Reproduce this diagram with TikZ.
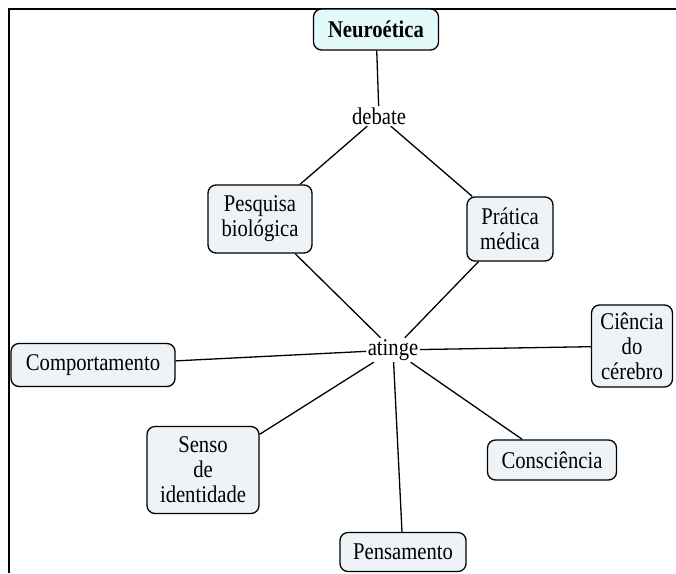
\documentclass[tikz,border=0pt]{standalone}
\usepackage{fontspec}
\setmainfont[FakeStretch=0.86]{Liberation Serif}
\usepackage{tikz}
\usetikzlibrary{
	positioning,									% 节点的高级摆放
}

\begin{document}
\begin{tikzpicture}[x=1pt, y=-1pt,
		conceito/.style={draw, line width=1.3pt, rounded corners=8pt, fill=caixa, align=center,
			inner xsep=10pt, inner ysep=7pt, font=\fontsize{24}{25}\selectfont},
		ligacao/.style={inner sep=1.5pt, font=\fontsize{24}{25}\selectfont},
		linha/.style={line width=1.3pt}]
		\definecolor{caixa}{HTML}{EDF3F6}
		\definecolor{raiz}{HTML}{E3F8F8}
		\useasboundingbox (0,0) rectangle (676,573);
		% moldura
		\draw[line width=2pt] (676,8.5) -- (9,8.5) -- (9,573);
		\node[conceito, fill=raiz, font=\fontsize{24}{25}\selectfont\bfseries, minimum width=125pt, minimum height=41pt] (neuro) at (376,29.5) {Neuroética};
		\node[ligacao] (debate) at (379,116) {debate};
		\node[conceito, minimum width=104pt, minimum height=68pt] (pesquisa) at (260,219) {Pesquisa\\biológica};
		\node[conceito, minimum width=86pt, minimum height=64pt] (pratica) at (510,229) {Prática\\médica};
		\node[ligacao] (atinge) at (393,350) {atinge};
		\node[conceito, minimum width=164pt, minimum height=43pt] (comport) at (93,365) {Comportamento};
		\node[conceito, inner xsep=3pt, minimum width=81pt, minimum height=82pt] (ciencia) at (632,346) {Ciência\\do\\cérebro};
		\node[conceito, minimum width=112pt, minimum height=87pt] (senso) at (203,470) {Senso\\de\\identidade};
		\node[conceito, minimum width=129pt, minimum height=40pt] (consc) at (552,460) {Consciência};
		\node[conceito, minimum width=126pt, minimum height=39pt] (pens) at (403,552) {Pensamento};
		\draw[linha] (neuro) -- (debate);
		\draw[linha] (debate) -- (pesquisa);
		\draw[linha] (debate) -- (pratica);
		\draw[linha] (pesquisa) -- (atinge);
		\draw[linha] (pratica) -- (atinge);
		\foreach \alvo in {comport, ciencia, senso, consc, pens}
			\draw[linha] (atinge) -- (\alvo);
	\end{tikzpicture}
\end{document}
